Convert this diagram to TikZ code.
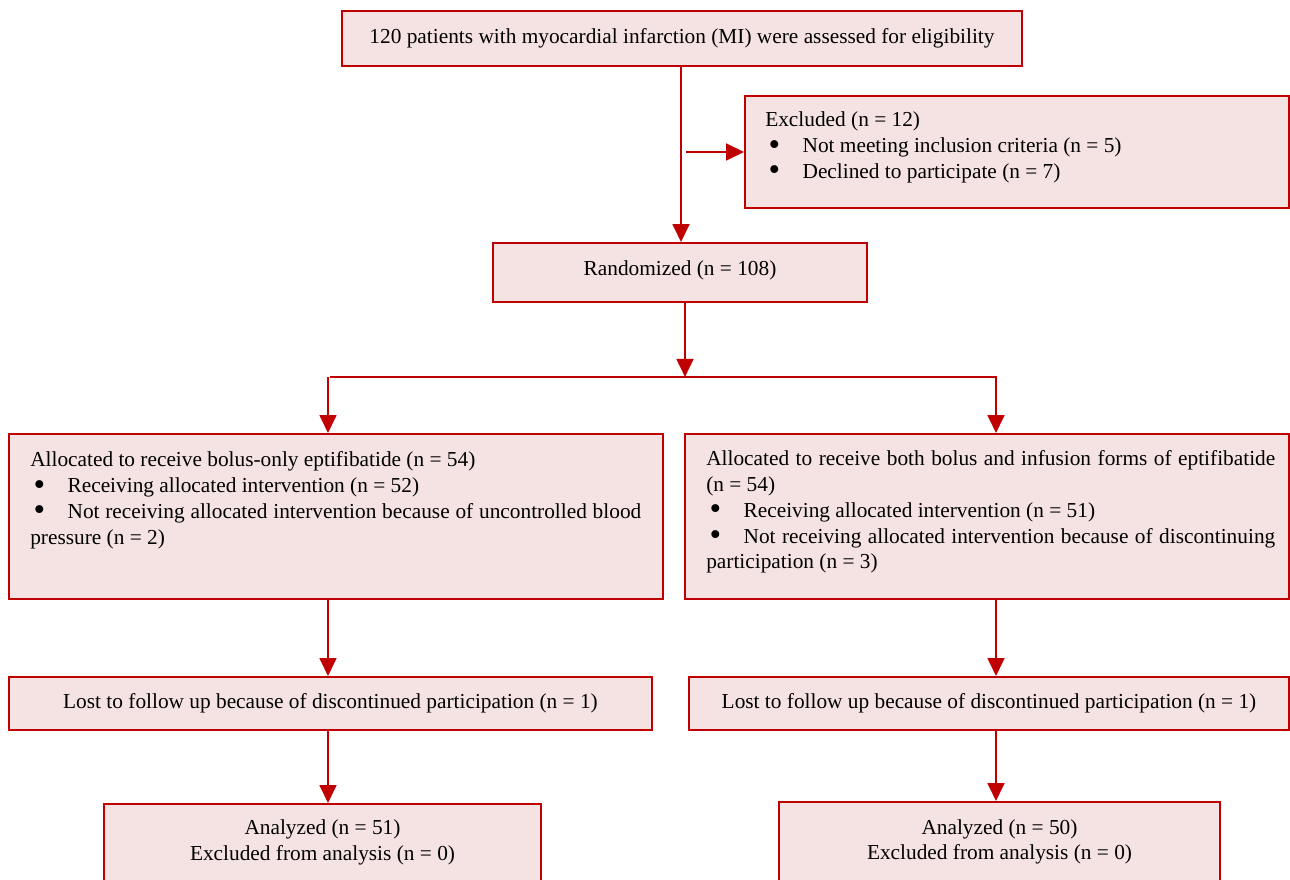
\documentclass[tikz,border=0pt]{standalone}
\usepackage{fontspec}
\setmainfont{Liberation Serif}
\usetikzlibrary{arrows.meta}
\definecolor{cred}{HTML}{C00000}
\definecolor{cfill}{HTML}{F5E3E4}
\newcommand{\bul}{\hspace*{2.5pt}\makebox[25.5pt][l]{\raisebox{-1.9pt}[0pt][0pt]{\scalebox{1.55}{\textbullet}}}}
\begin{document}
\begin{tikzpicture}[x=0.75pt,y=-0.75pt,
 box/.style={draw=cred, fill=cfill, line width=1.4pt, inner sep=0pt, font=\fontsize{16}{19.3}\selectfont},
 txt/.style={inner sep=0pt, font=\fontsize{16}{19.3}\selectfont, anchor=base west},
 ctxt/.style={inner sep=0pt, font=\fontsize{16}{19.3}\selectfont, align=center},
 arr/.style={draw=cred, line width=2pt, -{Triangle[length=13.5pt,width=12.5pt]}},
 ln/.style={draw=cred, line width=2pt}]
\useasboundingbox (0,0) rectangle (1290,880);
\begin{scope}
\clip (0,0) rectangle (1290,880);
\node[box, minimum width=510pt, minimum height=41.25pt] (top) at (682,38.5) {120 patients with myocardial infarction (MI) were assessed for eligibility};
\node[box, minimum width=408pt, minimum height=84pt] (excl) at (1017,152) {};
\node[box, minimum width=280.5pt, minimum height=44.25pt] (rand) at (680,272.5) {\raisebox{1.5pt}[\height][\depth]{Randomized (n = 108)}};
\node[box, minimum width=490.5pt, minimum height=123.75pt] (allocL) at (336,516.5) {};
\node[box, minimum width=453pt, minimum height=123.75pt] (allocR) at (987,516.5) {};
\node[box, minimum width=482.25pt, minimum height=39.75pt] (lostL) at (330.5,703.5) {Lost to follow up because of discontinued participation (n = 1)};
\node[box, minimum width=450pt, minimum height=39.75pt] (lostR) at (989,703.5) {Lost to follow up because of discontinued participation (n = 1)};
\node[box, minimum width=327.75pt, minimum height=72pt] (anaL) at (322.5,852) {};
\node[box, minimum width=330.75pt, minimum height=73.5pt] (anaR) at (999.5,851) {};
\end{scope}

\node[txt, text width=380pt, align=justify] (exclT) at (765,127) {Excluded (n = 12)\\\bul Not meeting inclusion criteria (n = 5)\\\bul Declined to participate (n = 7)};
\node[txt, text width=458.25pt, align=justify] (allocLT) at (30,467) {Allocated to receive bolus-only eptifibatide (n = 54)\\\bul Receiving allocated intervention (n = 52)\\\bul Not receiving allocated intervention because of uncontrolled blood\linebreak pressure (n = 2)};
\node[txt, text width=426.75pt, align=justify] (allocRT) at (706,466) {Allocated to receive both bolus and infusion forms of eptifibatide\linebreak (n = 54)\\\bul Receiving allocated intervention (n = 51)\\\bul Not receiving allocated intervention because of discontinuing\linebreak participation (n = 3)};
\node[ctxt] (anaLT) at (322.5,842.5) {Analyzed (n = 51)\\Excluded from analysis (n = 0)};
\node[ctxt] (anaRT) at (999.5,842) {Analyzed (n = 50)\\Excluded from analysis (n = 0)};

\coordinate (c1) at (681,0);
\coordinate (c2) at (685,0);
\coordinate (cL) at (328,0);
\coordinate (cR) at (996,0);
\coordinate (j1) at (686,152);
\coordinate (br) at (685,377);
\coordinate (bl) at (330,377);
\coordinate (brr) at (996,377);

\draw[arr] (top.south -| c1) -- (rand.north -| c1);
\draw[arr] (j1) -- (j1 -| excl.west);
\draw[arr] (rand.south -| c2) -- (br);
\draw[arr] (bl) -- (brr) -- (allocR.north -| cR);
\draw[arr] (cL |- bl) -- (allocL.north -| cL);
\draw[arr] (allocL.south -| cL) -- (lostL.north -| cL);
\draw[arr] (lostL.south -| cL) -- (anaL.north -| cL);
\draw[arr] (allocR.south -| cR) -- (lostR.north -| cR);
\draw[arr] (lostR.south -| cR) -- (anaR.north -| cR);
\end{tikzpicture}
\end{document}
